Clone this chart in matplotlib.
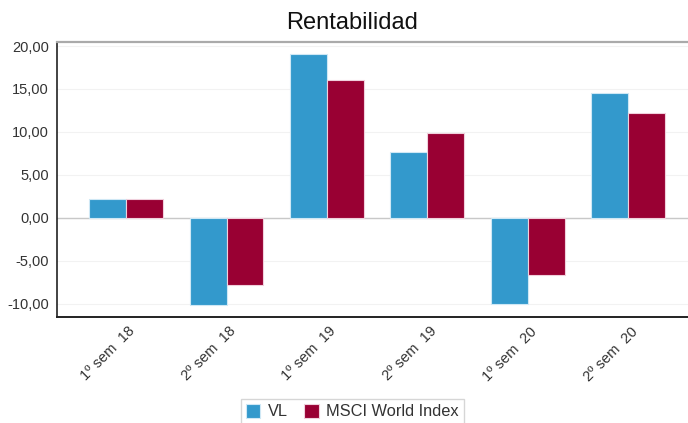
import matplotlib
matplotlib.use("Agg")
import matplotlib.pyplot as plt
import matplotlib.transforms as mtransforms
import numpy as np
from matplotlib.ticker import FuncFormatter

categories = ["1º sem  18", "2º sem  18", "1º sem  19", "2º sem  19", "1º sem  20", "2º sem  20"]
vl = [2.18, -10.17, 19.07, 7.69, -10.05, 14.56]
msci = [2.15, -7.88, 16.10, 9.83, -6.64, 12.16]
series_names = ["VL", "MSCI World Index"]
yticks = [-10, -5, 0, 5, 10, 15, 20]

plt.rcParams['font.family'] = ['Liberation Sans', 'DejaVu Sans']

fig = plt.figure(figsize=(6.88, 4.23), dpi=100)
ax = fig.add_axes([0.0833, 0.2513, 0.930, 0.6494])

x = np.arange(len(categories))
w = 0.368
b1 = ax.bar(x - w/2, vl, w, color="#3399cc", edgecolor="#cfe8f5", linewidth=0.8, label=series_names[0], zorder=3)
b2 = ax.bar(x + w/2, msci, w, color="#990033", edgecolor="#f0d0dc", linewidth=0.8, label=series_names[1], zorder=3)

ax.set_xlim(-0.684, 5.684)
ax.set_ylim(-11.53, 20.47)
ax.set_yticks(yticks)
ax.yaxis.set_major_formatter(FuncFormatter(lambda v, p: f"{v:.2f}".replace(".", ",")))
ax.grid(axis='y', color="#f2f2f2", linewidth=0.8, zorder=0)
ax.axhline(0, color="#c8c8c8", linewidth=1.0, zorder=2)

ax.set_xticks(x)
ax.set_xticklabels(categories, rotation=45, ha='right', va='top', rotation_mode='anchor')
ax.tick_params(axis='both', length=0, labelsize=10.5, labelcolor="#333333")
ax.tick_params(axis='y', pad=6)
ax.tick_params(axis='x', pad=4)
offset = mtransforms.ScaledTranslation(2/100, -2/100, fig.dpi_scale_trans)
for lbl in ax.get_xticklabels():
    lbl.set_transform(lbl.get_transform() + offset)

ax.spines['right'].set_visible(False)
ax.spines['top'].set_color("#aaaaaa")
ax.spines['top'].set_linewidth(1.6)
ax.spines['left'].set_color("#222222")
ax.spines['bottom'].set_color("#222222")
ax.spines['left'].set_linewidth(1.2)
ax.spines['bottom'].set_linewidth(1.4)

fig.text(0.512, 1 - 29.3/423, "Rentabilidad", ha='center', va='baseline', fontsize=17, color="#111111")

leg = fig.legend(handles=[b1, b2], labels=series_names, loc='upper center',
                 bbox_to_anchor=(0.512, 1 - 399/423), ncol=2, frameon=True, fancybox=False,
                 fontsize=11.8, handlelength=0.9, handleheight=0.9, handletextpad=0.45,
                 columnspacing=1.0, borderpad=0.3, borderaxespad=0, labelcolor="#333333")
leg.get_frame().set_edgecolor("#cccccc")
leg.get_frame().set_linewidth(1.0)

fig.savefig("out.png", dpi=100)
